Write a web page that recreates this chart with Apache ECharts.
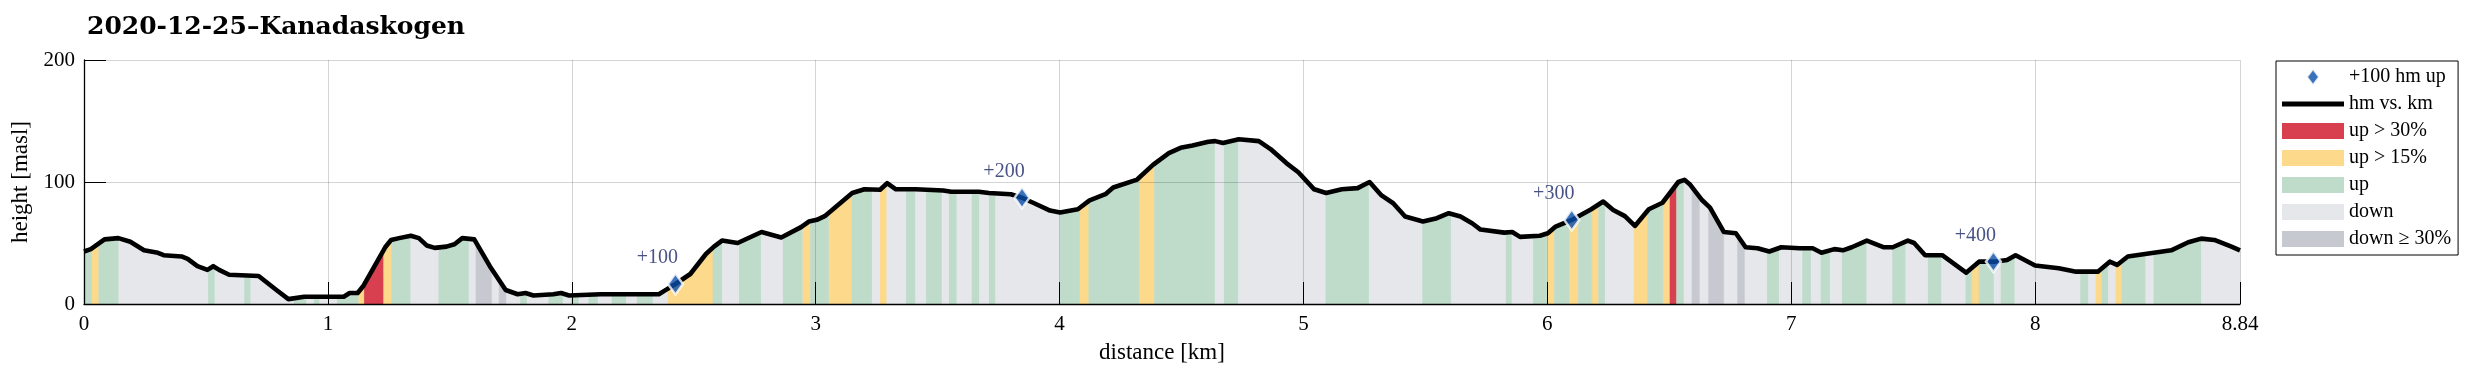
<!DOCTYPE html>
<html>
<head>
<meta charset="utf-8">
<title>2020-12-25–Kanadaskogen</title>
<script src="https://cdn.jsdelivr.net/npm/echarts@6/dist/echarts.min.js"></script>
<style>
  html, body { margin: 0; padding: 0; background: #fff; }
  #chart { width: 2477px; height: 377px; }
</style>
</head>
<body>
<div id="chart"></div>
<script>
// height profile, distance in km and height in masl
const profileKm = [
  0, 0.028, 0.084, 0.141, 0.19, 0.246, 0.303, 0.327, 0.40, 0.425,
  0.465, 0.506, 0.53, 0.554, 0.595, 0.716, 0.789, 0.838, 0.903, 1.0,
  1.065, 1.089, 1.122, 1.146, 1.235, 1.259, 1.292, 1.34, 1.373, 1.405,
  1.438, 1.486, 1.519, 1.551, 1.6, 1.664, 1.729, 1.778, 1.81, 1.843,
  1.924, 1.956, 1.989, 2.118, 2.357, 2.381, 2.425, 2.486, 2.55, 2.583,
  2.616, 2.68, 2.778, 2.859, 2.94, 2.972, 3.005, 3.037, 3.15, 3.2,
  3.264, 3.293, 3.329, 3.41, 3.523, 3.556, 3.669, 3.71, 3.8, 3.846,
  3.896, 3.961, 4.002, 4.075, 4.123, 4.188, 4.22, 4.318, 4.383, 4.448,
  4.496, 4.545, 4.61, 4.638, 4.67, 4.735, 4.817, 4.865, 4.93, 4.979,
  5.044, 5.093, 5.157, 5.222, 5.271, 5.32, 5.368, 5.417, 5.49, 5.547,
  5.596, 5.644, 5.693, 5.726, 5.823, 5.856, 5.888, 5.969, 6.002, 6.034,
  6.1, 6.18, 6.229, 6.27, 6.318, 6.359, 6.416, 6.472, 6.537, 6.562,
  6.586, 6.635, 6.667, 6.724, 6.773, 6.813, 6.862, 6.91, 6.959, 7.035,
  7.088, 7.124, 7.177, 7.212, 7.248, 7.31, 7.38, 7.416, 7.478, 7.504,
  7.549, 7.619, 7.717, 7.77, 7.832, 7.885, 7.92, 8.0, 8.097, 8.168,
  8.257, 8.306, 8.336, 8.38, 8.451, 8.558, 8.628, 8.681, 8.735, 8.805,
  8.84
];
const profileHm = [
  43, 45, 53, 54, 51, 44, 42, 40, 39, 37,
  31, 28, 31, 28, 24, 23, 11.5, 4, 6, 6,
  6, 9, 9, 15, 46.5, 52.5, 54, 56, 54, 48,
  46, 47, 49, 54, 53, 31, 11.5, 8, 9, 7,
  8, 9, 7, 8, 8, 11, 16.4, 24.6, 41, 47,
  52, 50, 59, 54.5, 63, 67.6, 69, 72, 91, 94,
  93.6, 99, 94, 94, 93, 92, 92, 91, 90, 87.1,
  82.6, 76.6, 75, 77.7, 85, 90, 95.5, 102, 114, 123.7,
  128, 130, 133, 133.5, 132, 135, 133.5, 127, 115.5, 108,
  94, 91, 94, 95, 100, 89, 82.6, 71.7, 67.6, 70.3,
  74.4, 71.7, 66, 61, 58.5, 59, 55, 56, 58, 63.5,
  68.9, 77.7, 84, 77, 72, 64, 77.7, 83, 100, 101.8,
  97.7, 85, 79, 59, 58, 46.5, 45.7, 43, 46.5, 45.7,
  45.7, 42, 45, 44, 46.5, 52, 46.5, 46.5, 52, 50,
  40, 40, 25.7, 34.7, 34.7, 36, 40, 31.5, 29.3, 26.5,
  26.5, 34.7, 32, 38.9, 41, 44, 50.6, 53.6, 52.5, 47,
  44
];

// slope bands: edges (km) and the class of each band
const bandEdges = [
  0, 0.031, 0.061, 0.143, 0.507, 0.537, 0.656, 0.684, 0.858, 0.913,
  0.94, 0.967, 1.036, 1.124, 1.147, 1.229, 1.261, 1.34, 1.452, 1.579,
  1.607, 1.671, 1.702, 1.73, 1.787, 1.817, 1.903, 1.965, 1.994, 2.03,
  2.067, 2.108, 2.162, 2.224, 2.265, 2.333, 2.391, 2.579, 2.617, 2.684,
  2.777, 2.864, 2.945, 2.979, 3.053, 3.149, 3.232, 3.262, 3.292, 3.369,
  3.41, 3.451, 3.518, 3.545, 3.579, 3.638, 3.672, 3.709, 3.738, 4.0,
  4.082, 4.12, 4.325, 4.389, 4.638, 4.672, 4.734, 5.089, 5.27, 5.486,
  5.606, 5.828, 5.855, 5.94, 5.997, 6.029, 6.09, 6.127, 6.182, 6.21,
  6.238, 6.352, 6.411, 6.473, 6.5, 6.53, 6.561, 6.593, 6.623, 6.661,
  6.723, 6.78, 6.808, 6.899, 6.951, 7.044, 7.082, 7.119, 7.16, 7.206,
  7.31, 7.413, 7.47, 7.559, 7.617, 7.713, 7.74, 7.77, 7.832, 7.857,
  7.917, 8.184, 8.219, 8.246, 8.273, 8.301, 8.328, 8.355, 8.454, 8.484,
  8.682, 8.84
];
// R = up > 30%, Y = up > 15%, G = up, D = down, S = down >= 30%
const bandTypes = [
  'G', 'Y', 'G', 'D', 'G', 'D', 'G', 'D', 'G', 'D',
  'G', 'D', 'G', 'Y', 'R', 'Y', 'G', 'D', 'G', 'D',
  'S', 'D', 'S', 'D', 'G', 'D', 'G', 'D', 'G', 'D',
  'G', 'D', 'G', 'D', 'G', 'D', 'Y', 'G', 'D', 'G',
  'D', 'G', 'Y', 'G', 'Y', 'G', 'D', 'Y', 'D', 'G',
  'D', 'G', 'D', 'G', 'D', 'G', 'D', 'G', 'D', 'G',
  'Y', 'G', 'Y', 'G', 'D', 'G', 'D', 'G', 'D', 'G',
  'D', 'G', 'D', 'G', 'Y', 'G', 'Y', 'G', 'Y', 'G',
  'D', 'Y', 'G', 'Y', 'R', 'G', 'D', 'S', 'D', 'S',
  'D', 'S', 'D', 'G', 'D', 'G', 'D', 'G', 'D', 'G',
  'D', 'G', 'D', 'G', 'D', 'G', 'Y', 'G', 'D', 'G',
  'D', 'G', 'D', 'Y', 'G', 'D', 'Y', 'G', 'D', 'G',
  'D'
];

// +100 hm markers
const markKm = [2.425, 3.846, 6.1, 7.829];
const markHm = [16.4, 87.1, 68.9, 34.7];
const markLabels = ['+100', '+200', '+300', '+400'];

const bandOrder = ['R', 'Y', 'G', 'D', 'S'];
const bandNames = { R: 'up > 30%', Y: 'up > 15%', G: 'up', D: 'down', S: 'down ≥ 30%' };
const bandColors = { R: '#d9404f', Y: '#fdda8b', G: '#bfdccb', D: '#e6e7eb', S: '#c7c9d1' };

const serif = '"Liberation Serif", "Times New Roman", serif';

// linear interpolation on the profile
function heightAt(km) {
  for (let i = 1; i < profileKm.length; i++) {
    if (km <= profileKm[i]) {
      const t = (km - profileKm[i - 1]) / (profileKm[i] - profileKm[i - 1]);
      return profileHm[i - 1] + t * (profileHm[i] - profileHm[i - 1]);
    }
  }
  return profileHm[profileHm.length - 1];
}

function renderBand(params, api) {
  const x0 = api.value(0);
  const x1 = api.value(1);
  const pts = [api.coord([x0, 0]), api.coord([x0, heightAt(x0)])];
  for (let i = 0; i < profileKm.length; i++) {
    if (profileKm[i] > x0 && profileKm[i] < x1) {
      pts.push(api.coord([profileKm[i], profileHm[i]]));
    }
  }
  pts.push(api.coord([x1, heightAt(x1)]));
  pts.push(api.coord([x1, 0]));
  const c = api.visual('color');
  return {
    type: 'polygon',
    shape: { points: pts },
    style: { fill: c, stroke: c, lineWidth: 0.6 }
  };
}

const bandSeries = bandOrder.map(t => {
  const data = [];
  bandTypes.forEach((bt, i) => {
    if (bt === t) data.push([bandEdges[i], bandEdges[i + 1], 0]);
  });
  return {
    name: bandNames[t],
    type: 'custom',
    renderItem: renderBand,
    encode: { x: [0, 1], y: 2 },
    itemStyle: { color: bandColors[t] },
    z: 1,
    silent: true,
    data: data
  };
});

const chart = echarts.init(document.getElementById('chart'));

const option = {
  animation: false,
  title: {
    text: '2020-12-25–Kanadaskogen',
    left: 82,
    top: 10,
    textStyle: { fontFamily: '"DejaVu Serif", serif', fontWeight: 'bold', fontSize: 25, color: '#000' }
  },
  legend: {
    orient: 'vertical',
    left: 2276,
    top: 61,
    padding: [6, 7, 6, 6],
    itemGap: 7,
    itemWidth: 62,
    itemHeight: 16,
    itemTextGap: 10,
    borderColor: '#000',
    borderWidth: 1,
    textStyle: { fontFamily: serif, fontSize: 20, color: '#000' },
    data: [
      { name: '+100 hm up', icon: 'path://M6,0L12,8L6,16L0,8Z' },
      { name: 'hm vs. km', icon: 'path://M0,0H62V5H0Z' },
      { name: 'up > 30%', icon: 'rect' },
      { name: 'up > 15%', icon: 'rect' },
      { name: 'up', icon: 'rect' },
      { name: 'down', icon: 'rect' },
      { name: 'down ≥ 30%', icon: 'rect' }
    ]
  },
  grid: { left: 84, right: 237, top: 60, bottom: 73 },
  xAxis: {
    type: 'value',
    min: 0,
    max: 8.84,
    interval: 1,
    z: 2,
    name: 'distance [km]',
    nameLocation: 'middle',
    nameGap: 37,
    nameTextStyle: { fontFamily: serif, fontSize: 23, color: '#000', verticalAlign: 'top' },
    axisLine: { show: true, onZero: false, lineStyle: { color: '#000', width: 1.3 } },
    axisTick: { show: true, inside: true, length: 22, lineStyle: { color: '#000', width: 1 } },
    axisLabel: { fontFamily: serif, fontSize: 21, color: '#000', margin: 10, showMaxLabel: true, showMinLabel: true },
    splitLine: { show: true, lineStyle: { color: 'rgba(0,0,0,0.17)', width: 1 } }
  },
  yAxis: {
    type: 'value',
    min: 0,
    max: 200,
    interval: 100,
    z: 2,
    name: 'height [masl]',
    nameLocation: 'middle',
    nameGap: 47,
    nameTextStyle: { fontFamily: serif, fontSize: 23, color: '#000' },
    axisLine: { show: true, lineStyle: { color: '#000', width: 1.3 } },
    axisTick: { show: true, inside: true, length: 22, lineStyle: { color: '#000', width: 1 } },
    axisLabel: { fontFamily: serif, fontSize: 21, color: '#000', margin: 9 },
    splitLine: { show: true, lineStyle: { color: 'rgba(0,0,0,0.17)', width: 1 } }
  },
  series: bandSeries.concat([
    {
      name: 'hm vs. km',
      type: 'line',
      color: '#000',
      symbol: 'none',
      z: 3,
      silent: true,
      lineStyle: { color: '#000', width: 4.6, join: 'round' },
      data: profileKm.map((k, i) => [k, profileHm[i]])
    },
    {
      name: '+100 hm up',
      type: 'scatter',
      color: '#0a4caa',
      symbol: 'path://M6,0L12,8L6,16L0,8Z',
      symbolSize: [15, 21],
      z: 4,
      itemStyle: { color: '#0a4caa', borderColor: '#fff', borderWidth: 2.5 },
      label: {
        show: true,
        position: 'top',
        distance: 4,
        offset: [-18, 0],
        formatter: '{b}',
        fontFamily: serif,
        fontSize: 20,
        color: '#1a2766'
      },
      data: markKm.map((k, i) => ({ name: markLabels[i], value: [k, markHm[i]] }))
    }
  ])
};

chart.setOption(option);
</script>
</body>
</html>
